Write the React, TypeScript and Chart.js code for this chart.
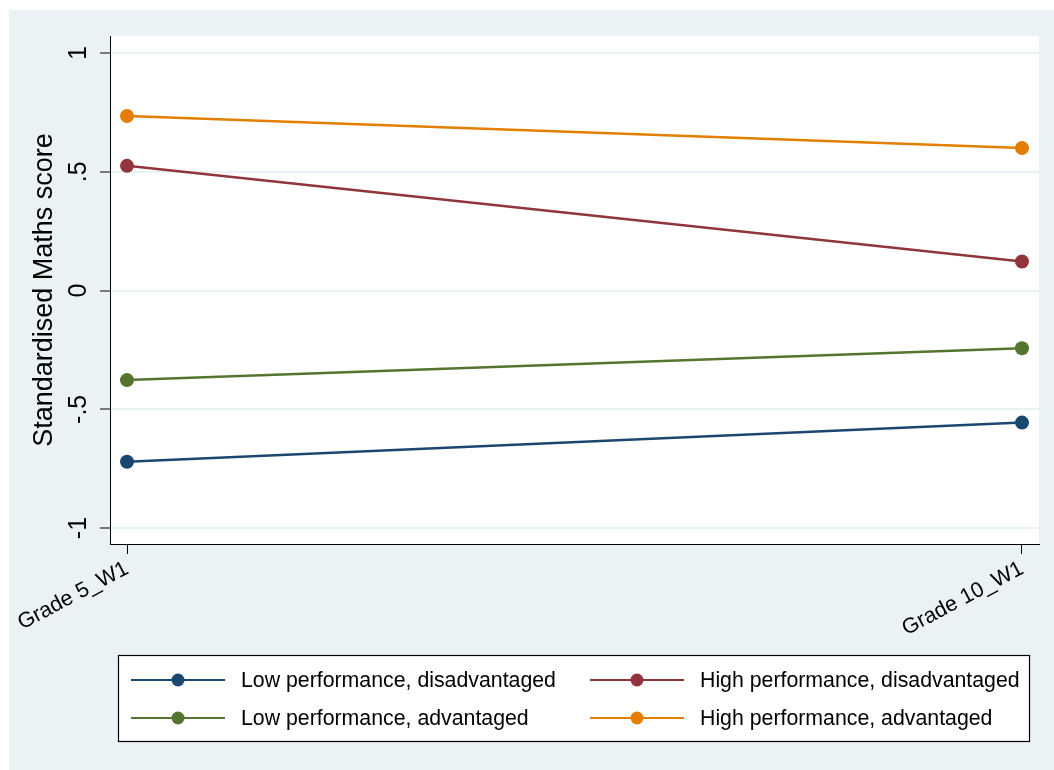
import React, { useEffect, useRef } from "react";
import { Chart, registerables } from "chart.js";

Chart.register(...registerables);

const xCategories = ["Grade 5_W1", "Grade 10_W1"];
const yTickValues = [-1, -0.5, 0, 0.5, 1];
const yTickLabels = ["-1", "-.5", "0", ".5", "1"];
const seriesNames = [
  "Low performance, disadvantaged",
  "High performance, disadvantaged",
  "Low performance, advantaged",
  "High performance, advantaged",
];
const lowDisadvantaged = [-0.721, -0.556];
const highDisadvantaged = [0.525, 0.122];
const lowAdvantaged = [-0.377, -0.243];
const highAdvantaged = [0.735, 0.6];
const seriesColors = ["#1A476F", "#90353B", "#55752F", "#E37E00"];

const FONT = "'Liberation Sans', Arial, Helvetica, sans-serif";

const bgPlugin = {
  id: "stataBg",
  beforeDraw(chart: any) {
    const { ctx, width, height, chartArea: a } = chart;
    ctx.save();
    ctx.fillStyle = "#ffffff";
    ctx.fillRect(0, 0, width, height);
    ctx.fillStyle = "#EAF2F3";
    ctx.fillRect(9, 10, width - 9, height - 10);
    ctx.fillStyle = "#ffffff";
    ctx.fillRect(a.left, a.top, a.right - a.left, a.bottom - a.top);
    ctx.restore();
  },
};

const legendPlugin = {
  id: "stataLegend",
  afterDraw(chart: any) {
    const { ctx, chartArea: a } = chart;
    const boxL = a.left + 8;
    const boxR = a.right - 9;
    const boxT = a.bottom + 111;
    const boxH = 87;
    ctx.save();
    ctx.fillStyle = "#ffffff";
    ctx.fillRect(boxL, boxT, boxR - boxL, boxH);
    ctx.strokeStyle = "#000000";
    ctx.lineWidth = 1.2;
    ctx.strokeRect(boxL + 0.5, boxT + 0.5, boxR - boxL - 1, boxH - 1);
    const colW = 459;
    chart.data.datasets.forEach((ds: any, i: number) => {
      const col = i % 2;
      const row = Math.floor(i / 2);
      const x0 = boxL + 13 + col * colW;
      const y = boxT + 25 + row * 38;
      ctx.strokeStyle = ds.borderColor;
      ctx.lineWidth = 2;
      ctx.beginPath();
      ctx.moveTo(x0, y);
      ctx.lineTo(x0 + 94, y);
      ctx.stroke();
      ctx.fillStyle = ds.borderColor;
      ctx.beginPath();
      ctx.arc(x0 + 47, y, 6.5, 0, Math.PI * 2);
      ctx.fill();
      ctx.fillStyle = "#000000";
      ctx.font = `21.3px ${FONT}`;
      ctx.textBaseline = "middle";
      ctx.textAlign = "left";
      ctx.fillText(ds.label, x0 + 110, y + 1);
    });
    ctx.restore();
  },
};

export default function App() {
  const ref = useRef<HTMLCanvasElement>(null);

  useEffect(() => {
    const series = [lowDisadvantaged, highDisadvantaged, lowAdvantaged, highAdvantaged];
    const datasets = series.map((vals, si) => ({
      label: seriesNames[si],
      data: vals.map((v, i) => ({ x: i, y: v })),
      borderColor: seriesColors[si],
      backgroundColor: seriesColors[si],
      pointBackgroundColor: seriesColors[si],
      pointBorderColor: seriesColors[si],
      pointBorderWidth: 0,
      pointRadius: 7,
      borderWidth: 2.5,
      tension: 0,
    }));

    const chart = new Chart(ref.current as HTMLCanvasElement, {
      type: "line",
      data: { datasets },
      plugins: [bgPlugin, legendPlugin],
      options: {
        responsive: false,
        animation: false,
        devicePixelRatio: 1,
        layout: { padding: { top: 36, right: 15, left: 0, bottom: 0 } },
        plugins: {
          legend: { display: false },
          tooltip: { enabled: false },
        },
        scales: {
          x: {
            type: "linear",
            min: -0.019,
            max: 1.019,
            afterBuildTicks: (s: any) => {
              s.ticks = xCategories.map((_, i) => ({ value: i }));
            },
            afterFit: (s: any) => {
              s.height = 226;
            },
            ticks: {
              callback: (v: any) => xCategories[v] ?? "",
              minRotation: 28,
              maxRotation: 28,
              autoSkip: false,
              color: "#000000",
              font: { family: FONT, size: 21.5 },
              padding: 2,
            },
            grid: {
              drawOnChartArea: false,
              drawTicks: true,
              tickLength: 10,
              tickColor: "#000000",
              tickWidth: 1,
            },
            border: { display: true, color: "#000000", width: 1 },
          },
          y: {
            type: "linear",
            min: -1.067,
            max: 1.0716,
            afterBuildTicks: (s: any) => {
              s.ticks = yTickValues.map((v) => ({ value: v }));
            },
            afterFit: (s: any) => {
              s.width = 110;
            },
            ticks: {
              callback: (v: any) => {
                const idx = yTickValues.indexOf(v);
                return idx >= 0 ? yTickLabels[idx] : "";
              },
              minRotation: 90,
              maxRotation: 90,
              crossAlign: "center",
              color: "#000000",
              font: { family: FONT, size: 25 },
              padding: 6,
            },
            grid: {
              color: "#EAF2F3",
              lineWidth: 2,
              drawTicks: true,
              tickLength: 10,
              tickColor: "#000000",
              tickWidth: 1,
            },
            border: { display: true, color: "#000000", width: 1 },
            title: {
              display: true,
              text: "Standardised Maths score",
              color: "#000000",
              font: { family: FONT, size: 27 },
              padding: { top: 28, bottom: 0 },
            },
          },
        },
      } as any,
    });
    return () => chart.destroy();
  }, []);

  return (
    <div style={{ position: "fixed", left: 0, top: 0, width: 1054, height: 770 }}>
      <canvas
        ref={ref}
        width={1054}
        height={770}
        style={{ display: "block", width: 1054, height: 770 }}
      />
    </div>
  );
}
